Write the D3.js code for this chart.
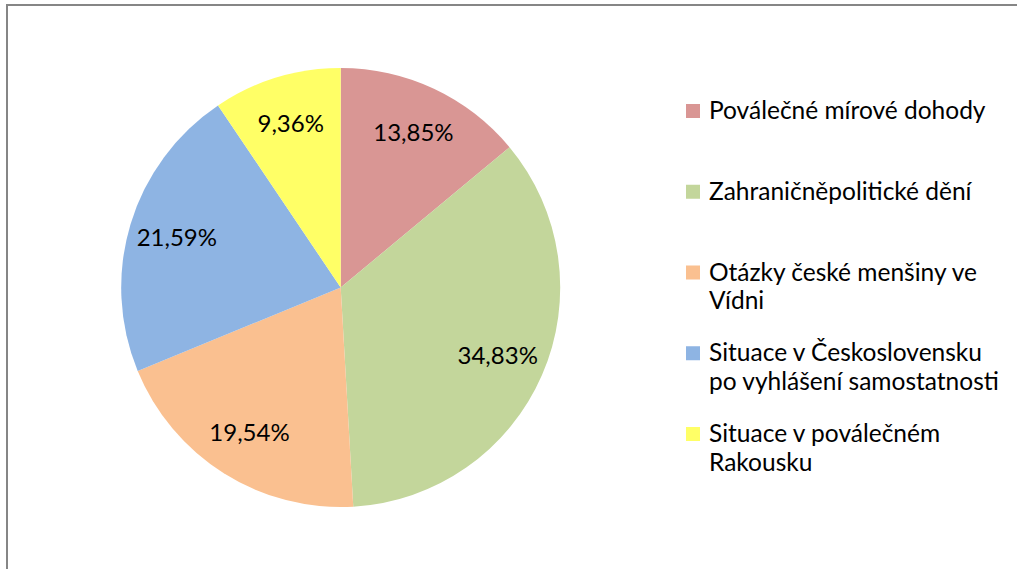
<!DOCTYPE html>
<html>
<head>
<meta charset="utf-8">
<script src="https://cdn.jsdelivr.net/npm/d3@7"></script>
<style>
  body { margin: 0; background: #fff; }
  text { font-family: Lato, "Open Sans", sans-serif; fill: #000; }
</style>
</head>
<body>
<div id="chart"></div>
<script>
// data
var categories = [
    "Poválečné mírové dohody",
    "Zahraničněpolitické dění",
    "Otázky české menšiny ve Vídni",
    "Situace v Československu po vyhlášení samostatnosti",
    "Situace v poválečném Rakousku"
];
// legend text split into lines as in the original
var legendLines = [
    ["Poválečné mírové dohody"],
    ["Zahraničněpolitické dění"],
    ["Otázky české menšiny ve", "Vídni"],
    ["Situace v Československu", "po vyhlášení samostatnosti"],
    ["Situace v poválečném", "Rakousku"]
];
var values = [13.85, 34.83, 19.54, 21.59, 9.36];
var colors = ["#d99694", "#c3d69b", "#fac090", "#8eb4e3", "#ffff66"];

(function () {
    var width = 1017, height = 569;

    var svg = d3.select("#chart")
        .append("svg")
        .attr("width", width)
        .attr("height", height);

    // chart frame (runs off the right and bottom edges)
    svg.append("rect")
        .attr("x", 7)
        .attr("y", 5)
        .attr("width", width + 20)
        .attr("height", height + 20)
        .attr("fill", "none")
        .attr("stroke", "#868686")
        .attr("stroke-width", 2);

    var cx = 340.7, cy = 287.5, radius = 219.5;

    var pie = d3.pie().sort(null).value(function (d) { return d; });
    var arc = d3.arc().innerRadius(0).outerRadius(radius);
    var labelArc = d3.arc().innerRadius(radius * 0.78).outerRadius(radius * 0.78);

    var color = d3.scaleOrdinal().domain(d3.range(values.length)).range(colors);

    var g = svg.append("g")
        .attr("transform", "translate(" + cx + "," + cy + ")");

    var arcs = pie(values);

    g.selectAll(".slice")
        .data(arcs)
        .enter().append("path")
        .attr("class", "slice")
        .attr("d", arc)
        .attr("fill", function (d, i) { return color(i); });

    var fmt = function (v) { return d3.format(".2f")(v).replace(".", ",") + "%"; };

    g.selectAll(".lbl")
        .data(arcs)
        .enter().append("text")
        .attr("class", "lbl")
        .attr("transform", function (d) { return "translate(" + labelArc.centroid(d) + ")"; })
        .attr("text-anchor", "middle")
        .attr("dy", "0.35em")
        .style("font-size", "24px")
        .text(function (d) { return fmt(d.data); });

    // legend
    var legend = svg.append("g").attr("transform", "translate(686,0)");
    var y0 = 119, step = 80.75, lineH = 28.5;

    var items = legend.selectAll(".item")
        .data(categories)
        .enter().append("g")
        .attr("class", "item")
        .attr("transform", function (d, i) { return "translate(0," + (y0 + i * step) + ")"; });

    items.append("rect")
        .attr("x", 0)
        .attr("y", -15)
        .attr("width", 14)
        .attr("height", 14)
        .attr("fill", function (d, i) { return color(i); });

    items.append("text")
        .attr("x", 23)
        .style("font-size", "24.5px")
        .selectAll("tspan")
        .data(function (d, i) { return legendLines[i]; })
        .enter().append("tspan")
        .attr("x", 23)
        .attr("y", function (d, j) { return j * lineH; })
        .text(function (d) { return d; });
})()
</script>
</body>
</html>
